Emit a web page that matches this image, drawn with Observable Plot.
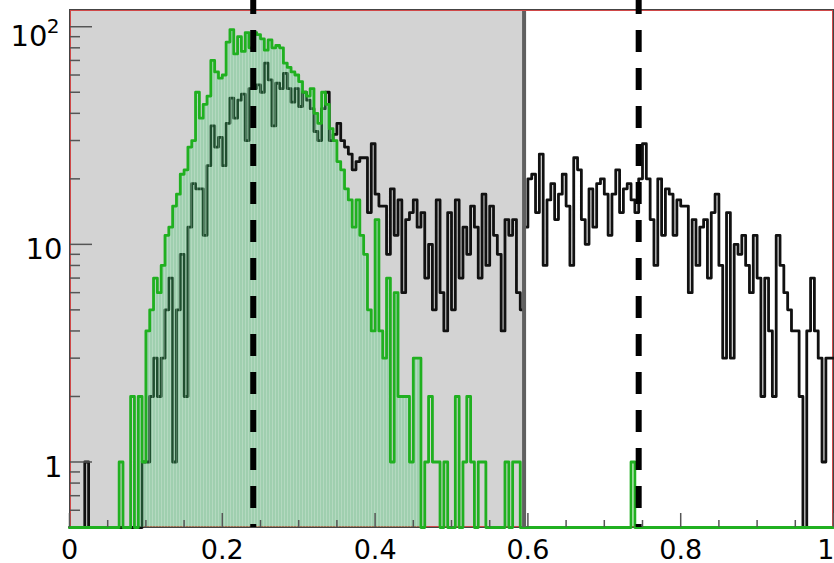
<!DOCTYPE html>
<html><head><meta charset="utf-8">
<script src="https://cdn.jsdelivr.net/npm/d3@7"></script>
<script src="https://cdn.jsdelivr.net/npm/@observablehq/plot@0.6"></script>
<style>html,body{margin:0;padding:0;background:#fff;overflow:hidden}</style>
</head><body><div id="chart"></div>
<script>
// ---- data ----
const binWidth = 0.005; // 200 bins on [0,1]
const greenCounts = [
  0,0,0,0,0,0,0,0,0,0,
  0,0,0,1,0,0,2,0,2,1,
  4,5,7,6,8,11,12,15,17,21,
  22,28,30,50,38,44,48,70,62,58,
  60,85,97,75,90,77,94,80,94,92,
  88,78,87,80,82,80,68,65,62,60,
  56,50,48,52,40,36,50,44,34,30,
  24,22,18,16,12,16,11,9,5,4,
  13,4,3,7,1,6,2,2,2,1,
  3,3,0,1,2,1,1,0,1,0,
  0,2,0,1,2,1,0,1,1,0,
  0,0,0,0,1,0,1,1,0,0,
  0,0,0,0,0,0,0,0,0,0,
  0,0,0,0,0,0,0,0,0,0,
  0,0,0,0,0,0,0,1,0,0,
  0,0,0,0,0,0,0,0,0,0,
  0,0,0,0,0,0,0,0,0,0,
  0,0,0,0,0,0,0,0,0,0,
  0,0,0,0,0,0,0,0,0,0,
  0,0,0,0,0,0,0,0,0,0
];
const blackCounts = [
  0,0,0,0,1,0,0,0,0,0,
  0,0,0,0,0,0,0,0,0,1,
  1,2,3,2,3,5,7,1,5,9,
  2,12,19,18,18,11,23,35,28,31,
  23,36,47,38,46,49,30,52,52,54,
  50,68,57,35,55,52,61,52,45,52,
  43,50,46,42,33,30,42,50,30,32,
  36,30,28,26,22,24,25,25,14,29,
  17,15,15,9,18,11,16,6,13,14,
  16,12,14,7,10,5,16,6,4,14,
  5,16,7,12,9,15,12,7,17,8,
  15,11,9,4,13,11,13,6,5,12,
  20,21,14,26,8,16,19,13,17,21,
  15,8,25,22,13,10,18,12,19,20,
  17,11,17,22,14,18,19,16,14,20,
  29,20,13,8,20,11,18,17,11,16,
  15,15,6,13,8,12,13,7,14,17,
  8,3,14,3,10,9,11,8,6,11,
  7,2,7,4,2,11,8,6,5,4,
  4,2,0,4,7,4,3,1,3,3
];
const shadedRange = [0, 0.595];
const boundaryLine = [0.595];
const cutLines = [0.2405, 0.745];
const fillRange = [0.09, 0.465];
const xDomain = [0, 1];
const yDomain = [0.5, 120];
const xMajorTicks = [0, 0.2, 0.4, 0.6, 0.8, 1];
const xTickLabels = ["0", "0.2", "0.4", "0.6", "0.8", "1"];
const xMinorTicks = [0.05,0.1,0.15,0.25,0.3,0.35,0.45,0.5,0.55,0.65,0.7,0.75,0.85,0.9,0.95];
const yMajorTicks = [1, 10, 100];
const yMinorTicks = [0.6,0.7,0.8,0.9,2,3,4,5,6,7,8,9,20,30,40,50,60,70,80,90];
const yLabelValues = [1, 10, 100];
const yLabelBases = ["1", "10", "10"];
const yLabelExponents = ["", "", "2"];

// ---- build step tables ----
function steps(counts, lo = 0, hi = counts.length) {
  const pts = [];
  for (let i = lo; i < hi; i++) pts.push({x: i * binWidth, v: counts[i]});
  pts.push({x: hi * binWidth, v: counts[hi - 1]});
  return pts;
}
const greenSteps = steps(greenCounts);
const blackSteps = steps(blackCounts);
const fillLo = Math.round(fillRange[0] / binWidth), fillHi = Math.round(fillRange[1] / binWidth);
const fillSteps = steps(greenCounts, fillLo, fillHi);
const yv = d => Math.max(d.v, yDomain[0]);

const W = 834, H = 563, mL = 69, mR = 1, mT = 9, mB = 36;
const plotW = W - mL - mR, plotH = H - mT - mB;
const font = "DejaVu Sans";

const xLabels = xMajorTicks.map((v, i) => ({v, t: xTickLabels[i]}));
const labelsSimple = yLabelValues.map((v, i) => ({v, t: yLabelBases[i], e: yLabelExponents[i]}));

const chart = Plot.plot({
  width: W, height: H,
  marginLeft: mL, marginRight: mR, marginTop: mT, marginBottom: mB,
  x: {domain: xDomain, axis: null},
  y: {type: "log", domain: yDomain, axis: null},
  style: {background: "white", overflow: "visible"},
  marks: [
    Plot.rect([shadedRange], {x1: d => d[0], x2: d => d[1], fill: "#d3d3d3"}),
    Plot.frame({stroke: "#444", strokeWidth: 1}),
    Plot.frame({stroke: "#d04848", strokeWidth: 1, inset: 1}),
    Plot.line(blackSteps, {x: "x", y: yv, curve: "step-after", stroke: "#111", strokeWidth: 2.8}),
    Plot.areaY(fillSteps, {x: "x", y1: yDomain[0], y2: yv, curve: "step-after", fill: "url(#hatch)"}),
    Plot.line(greenSteps, {x: "x", y: yv, curve: "step-after", stroke: "#20b020", strokeWidth: 2.8}),
    Plot.ruleX(boundaryLine, {x: d => d, stroke: "#606060", strokeWidth: 4, insetTop: 2}),
    Plot.ruleX(cutLines, {x: d => d, stroke: "black", strokeWidth: 6, strokeDasharray: "22,16", strokeDashoffset: 8, insetTop: -mT}),
    // y ticks (inward)
    Plot.ruleY(yMajorTicks, {y: d => d, stroke: "#555", strokeWidth: 1.5, insetLeft: 1, insetRight: plotW - 23}),
    Plot.ruleY(yMinorTicks, {y: d => d, stroke: "#555", strokeWidth: 1.5, insetLeft: 1, insetRight: plotW - 11}),
    // x ticks (inward)
    Plot.ruleX(xMajorTicks, {x: d => d, stroke: "#555", strokeWidth: 1.5, insetTop: plotH - 14}),
    Plot.ruleX(xMinorTicks, {x: d => d, stroke: "#555", strokeWidth: 1.5, insetTop: plotH - 7}),
    // x labels (last one kept inside the window)
    Plot.text(xLabels.slice(0, -1), {x: "v", text: "t", frameAnchor: "bottom", lineAnchor: "middle", dy: 22.4, fontSize: 27, fontFamily: font, fill: "black"}),
    Plot.text(xLabels.slice(-1), {x: "v", text: "t", frameAnchor: "bottom", lineAnchor: "middle", textAnchor: "end", dx: 1, dy: 22.4, fontSize: 27, fontFamily: font, fill: "black"}),
    // y labels
    Plot.text(labelsSimple.filter(d => !d.e), {y: "v", text: "t", frameAnchor: "left", textAnchor: "end", dx: -7, dy: 5.7, fontSize: 29, fontFamily: font, fill: "black"}),
    Plot.text(labelsSimple.filter(d => d.e), {y: "v", text: "t", frameAnchor: "left", textAnchor: "end", dx: -22, dy: 9.5, fontSize: 29, fontFamily: font, fill: "black"}),
    Plot.text(labelsSimple.filter(d => d.e), {y: "v", text: "e", frameAnchor: "left", textAnchor: "end", dx: -10, dy: -0.6, fontSize: 20, fontFamily: font, fill: "black"})
  ]
});

// hatch pattern for the filled histogram
const ns = "http://www.w3.org/2000/svg";
const defs = document.createElementNS(ns, "defs");
defs.innerHTML = '<pattern id="hatch" width="3" height="10" patternUnits="userSpaceOnUse">' +
  '<rect width="3" height="10" fill="#3cc86a" fill-opacity="0.34"/>' +
  '<rect x="2" width="1" height="10" fill="#ffffff" fill-opacity="0.22"/></pattern>';
chart.insertBefore(defs, chart.firstChild);
document.getElementById("chart").appendChild(chart);
</script>
</body></html>
